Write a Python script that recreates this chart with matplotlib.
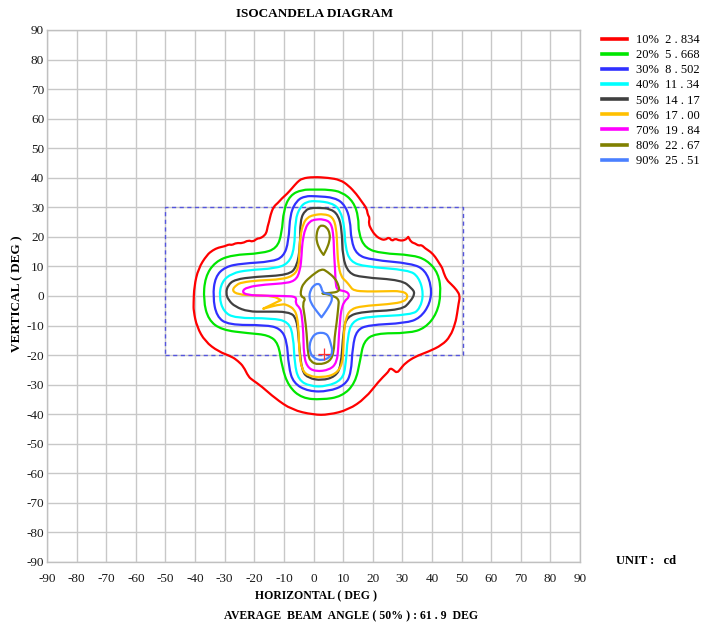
import matplotlib
matplotlib.use("Agg")
import matplotlib.pyplot as plt
import numpy as np
from matplotlib.lines import Line2D
from matplotlib.path import Path
from matplotlib.patches import PathPatch

# ---------------- data ----------------
ticks = list(range(-90, 91, 10))
levels_pct = ["10%", "20%", "30%", "40%", "50%", "60%", "70%", "80%", "90%"]
levels_cd = ["2 . 834", "5 . 668", "8 . 502", "11 . 34", "14 . 17", "17 . 00", "19 . 84", "22 . 67", "25 . 51"]
level_colors = ["#ff0000", "#00e600", "#3030ff", "#00ffff", "#404040", "#ffc000", "#ff00ff", "#808000", "#4a80ff"]

c10 = [(-3.9, 39.8), (0, 40.3), (5, 40.0), (9, 39.3), (11.8, 37.4), (14.5, 34.5), (16.3, 31.9), (18, 29.6),
       (18.3, 27.5), (19.0, 26.5), (18.6, 24.5), (19.5, 22.5), (20.8, 20.6), (22.5, 19.3), (24.2, 18.9),
       (25.5, 20), (26.5, 18.5), (27.6, 19.5), (29, 18.7), (31, 18.9), (32, 20), (33, 18.2), (34.3, 17.8),
       (35.5, 17), (36.5, 17.3), (37.7, 16.1), (39.5, 15), (41.1, 13.3), (42.5, 11), (43.5, 9.5), (43.9, 8),
       (45, 5.4), (46.5, 4), (48.4, 2), (49.5, 0), (49, -2.5), (48.5, -6), (47.9, -9.2), (46.2, -13.7),
       (43.4, -16.6), (38.9, -18.8), (34.3, -20.5), (31, -22.7), (29.5, -24.5), (28.2, -26.1), (27, -25),
       (25.9, -24.4), (25.3, -25.5), (24.8, -26.1), (22, -28.9), (17.5, -34.6), (11.8, -38.5), (5.1, -40.2),
       (0, -40.2), (-7.3, -38.5), (-13, -34.6), (-17.5, -30.6), (-20.5, -28.5), (-22, -27.3), (-23.6, -23.9),
       (-25.5, -22), (-27.6, -20.5), (-32.1, -18.8), (-36.6, -15.4), (-39.4, -10.4), (-40.5, -5),
       (-40.5, -2.5), (-40.3, 3.2), (-38.9, 9.3), (-36, 13.9), (-34, 15.5), (-32.1, 16.4), (-30, 16.8),
       (-28.5, 17.5), (-27.6, 17.2), (-26, 18), (-24, 17.8), (-22, 18.9), (-20.5, 18.3), (-19, 19.5),
       (-18, 19.5), (-16.5, 20.5), (-15.8, 21.7), (-15.5, 23.5), (-15, 25.1), (-14.5, 27.5), (-13.5, 30.2),
       (-12, 31.5), (-10.7, 33), (-9, 34.5), (-7.3, 36.4), (-5.5, 38.5), (-3.9, 39.8)]

c20 = [(0.6, 36), (5, 36.0), (9.6, 35.2), (13.5, 31.9), (15.2, 26.8), (15.2, 21.2), (17.5, 16.1), (23.1, 14.4),
       (33.2, 13.9), (38.3, 12.2), (42.2, 7.7), (43.1, 0.9), (41.7, -5.9), (37.7, -10.9), (32.1, -12.6),
       (20.8, -12.6), (16.9, -15.4), (15.8, -21.6), (14.1, -29.5), (9.6, -34), (2.8, -35.1), (-3.9, -34.6),
       (-8.4, -30.6), (-10.7, -23.9), (-11.8, -16), (-15.2, -13.2), (-22, -12.6), (-31, -11.5), (-35.5, -8.1),
       (-37.2, -1.4), (-36.6, 6.5), (-33.2, 11.6), (-27.6, 13.9), (-17.5, 14.4), (-12.4, 16.1), (-10.7, 21.2),
       (-10.1, 29.1), (-7.9, 34.1), (-3.9, 36), (0.6, 36)]

c30 = [(0.6, 33.8), (7.3, 33.3), (10.7, 30.7), (12.4, 25.7), (12.7, 18.9), (14.6, 13.9), (19.7, 12.2),
       (33.2, 11), (37.7, 8.8), (39.9, 3.2), (39.4, -2.5), (36, -7.5), (31, -9.2), (18.6, -9.8), (14.6, -11.5),
       (13.2, -17.1), (12.7, -26.1), (10.7, -30.1), (5.1, -32.3), (-1.7, -32.3), (-6.8, -29.5), (-8.4, -23.9),
       (-9, -14.9), (-11.3, -10.9), (-16.3, -9.8), (-28.7, -9.8), (-32.7, -7), (-34, -0.2), (-33.2, 6.5),
       (-29.8, 9.9), (-24.2, 11), (-14.1, 11.6), (-10.1, 13.3), (-8.4, 18.4), (-7.9, 27.9), (-5.6, 32.4),
       (-2.8, 33.8), (0.6, 33.8)]

c40 = [(0.6, 32.2), (6.2, 31.5), (9, 29.1), (10.5, 23.4), (10.7, 16.7), (12.4, 11.6), (17.5, 9.9), (32.1, 8.8),
       (35.5, 6.5), (37.2, 0.9), (36, -4.2), (33.2, -6.4), (17.5, -7), (13, -8.7), (11.5, -13.7), (10.9, -23.9),
       (9.6, -28.4), (4.5, -30.6), (-1.1, -30.6), (-5.1, -28.4), (-6.4, -22.7), (-6.8, -13.7), (-8.4, -8.7),
       (-14.1, -7.5), (-26.5, -7.5), (-30.4, -5.3), (-31.9, -0.2), (-31, 4.8), (-27.6, 7.7), (-22, 8.8),
       (-13, 9.3), (-8.4, 11), (-6.4, 16.1), (-6.2, 25.7), (-4.5, 30.2), (-2.3, 31.9), (0.6, 32.2)]

c50 = [(1.7, 29.8), (5.6, 29.6), (8.4, 27.4), (9.6, 22.3), (9.8, 13.3), (11.8, 7.7), (16.3, 6.3), (29.8, 5.4),
       (33.2, 2.6), (34.3, 0.9), (32.7, -1.9), (29.8, -4.7), (16.3, -5.3), (11.3, -7), (10.1, -11.5),
       (9.3, -23.9), (7.3, -27.3), (2.8, -28.6), (-1.7, -27.8), (-3.9, -25.5), (-4.8, -17.1), (-5.6, -7.5),
       (-8.4, -5.3), (-16.3, -5.3), (-22, -5.3), (-26.5, -3.6), (-28.7, -1.4), (-29.6, 0.9), (-28.9, 3.7),
       (-26.5, 5.6), (-19.7, 6.5), (-8.4, 7.1), (-5.6, 9.9), (-4.5, 16.7), (-4.5, 25.7), (-2.8, 29.1),
       (-0.6, 29.8), (1.7, 29.8)]

c60 = [(0, 27.4), (3.4, 27.8), (6.5, 26.8), (7.7, 23), (8.0, 17), (8.3, 11), (9.3, 6.5), (11.0, 5.0),
       (12.2, 3.5), (13.5, 1.8), (18, 1.5), (24, 1.6), (29.8, 1.7), (32.0, 0.4), (31.0, -1.9), (25.3, -2.8),
       (16.3, -3.4), (12.5, -4.5), (10.9, -7.5), (10.3, -12), (10.1, -17.1), (9.8, -23.0), (7.5, -26.5),
       (2.8, -27.6), (-1.7, -27.1), (-3.9, -25.0), (-4.8, -19.4), (-5.0, -12), (-5.5, -7), (-6.5, -4.5),
       (-8.5, -3.2), (-10.5, -2.6), (-17.0, -4.3), (-11.0, -1.4), (-13.5, 0.0), (-20, 0.2), (-25.5, 0.5),
       (-27.6, 1.9), (-26, 3.8), (-24.2, 4.6), (-18.6, 5.3), (-10.7, 5.6), (-6.5, 7.0), (-5.0, 10), (-4.8, 14),
       (-4.5, 20), (-3.5, 24.5), (-2, 26.6), (0, 27.4)]

c70 = [(0.5, 25.9), (3.4, 26.0), (6.0, 24.8), (6.8, 20), (6.9, 15), (7.3, 8.8), (7.5, 3.5), (8.2, 2.0),
       (11.5, 1.5), (12.2, -0.3), (10.3, -1.8), (9.3, -5), (9.0, -8.1), (8.6, -13), (8.4, -17.1), (7.9, -22.5),
       (5.5, -25.0), (0.6, -25.6), (-2.3, -23.9), (-3.3, -19.4), (-3.4, -12.6), (-4.0, -6), (-4.6, -4.0),
       (-6.2, -2.5), (-5.6, -0.2), (-10, 0.0), (-16, 0.1), (-22.5, 0.3), (-24.2, 1.5), (-22.5, 3.0),
       (-16.3, 3.9), (-10.7, 4.2), (-6.2, 5.0), (-4.5, 8.5), (-4.0, 14), (-3.8, 18), (-2.8, 23.0),
       (-1.2, 25.3), (0.5, 25.9)]

c80a = [(2.8, 24.0), (4.5, 23.3), (5.6, 21), (5.4, 18.5), (4.5, 16), (3.4, 13.9), (2.2, 15.5), (1.0, 18.5),
        (1.0, 21), (1.7, 23.3), (2.8, 24.0)]

c80b = [(2.8, 9.3), (4.7, 8.2), (7.3, 6.0), (8.5, 3.5), (8.8, 1.5), (5.5, 1.0), (3.0, 0.9), (6.0, 0.3),
        (8.6, -1.0), (8.4, -3.6), (7.8, -9.3), (7.1, -14), (6.9, -18.8), (5.6, -22.2), (1.7, -23.3),
        (-1.1, -22.2), (-1.9, -19.4), (-2.3, -12.6), (-3.0, -6.5), (-3.7, -2.5), (-2.6, -0.8), (-4.3, -0.2),
        (-4.3, 2.0), (-3.4, 4.3), (-0.5, 7), (2.8, 9.3)]

c90a = [(3.1, 0.9), (2.5, 3.5), (1.5, 4.3), (0.0, 3.5), (-1.0, 2), (-1.5, -0.2), (-0.8, -2.5), (0.8, -4.8),
        (2.7, -7.2), (4.3, -5), (5.8, -2.5), (6.3, -1), (6.0, 0.7), (3.1, 0.9)]

c90b = [(2.3, -12.4), (4.0, -12.6), (5.1, -13.7), (5.8, -16), (6.5, -18.8), (5.5, -20.8), (2.8, -21.9),
        (0.0, -21.0), (-1.2, -19.0), (-1.4, -16.5), (-0.5, -14), (0.8, -12.7), (2.3, -12.4)]

contours = [[c10], [c20], [c30], [c40], [c50], [c60], [c70], [c80a, c80b], [c90a, c90b]]

beam_box_x = [-50, 50.5]
beam_box_y = [-20, 30]
peak_point = (3.7, -19.5)


def smooth_closed_path(pts):
    """Closed path through the traced vertices, drawn with quadratic Bezier
    segments (vertices as control points); sharp turns are kept as corners."""
    P = np.asarray(pts, dtype=float)
    if np.allclose(P[0], P[-1]):
        P = P[:-1]
    n = len(P)
    mids = (P + np.roll(P, -1, axis=0)) / 2.0
    verts = [mids[-1]]
    codes = [Path.MOVETO]
    for i in range(n):
        a, p, b = P[i - 1], P[i], P[(i + 1) % n]
        u = p - a
        v = b - p
        nu, nv = np.hypot(*u), np.hypot(*v)
        sharp = nu > 0 and nv > 0 and np.dot(u, v) / (nu * nv) < -0.25
        verts += [p, mids[i]]
        if sharp:
            codes += [Path.LINETO, Path.LINETO]
        else:
            codes += [Path.CURVE3, Path.CURVE3]
    return Path(verts, codes)


# ---------------- figure ----------------
plt.rcParams['font.family'] = ['Liberation Serif', 'DejaVu Serif']
plt.rcParams['axes.unicode_minus'] = False
fig = plt.figure(figsize=(7.03, 6.23), dpi=100)
ax = fig.add_axes([47 / 703, 61 / 623, 533 / 703, 532 / 623])
ax.set_xlim(-90, 90)
ax.set_ylim(-90, 90)
ax.set_xticks(ticks)
ax.set_yticks(ticks)
ax.grid(True, color="#c8c8c8", lw=1.0)
ax.set_axisbelow(True)
for s in ax.spines.values():
    s.set_color("#c0c0c0")
    s.set_linewidth(1.0)
ax.tick_params(length=0, labelsize=9.5, colors="#1a1a1a")
ax.tick_params(axis="x", pad=8)
ax.tick_params(axis="y", pad=2)

# beam box
bx0, bx1 = beam_box_x
by0, by1 = beam_box_y
ax.plot([bx0, bx1, bx1, bx0, bx0], [by0, by0, by1, by1, by0], color="#5555dd", lw=1.0,
        dashes=(3, 2.5), zorder=2)

handles = []
for segs, col, p, cd in zip(contours, level_colors, levels_pct, levels_cd):
    for seg in segs:
        patch = PathPatch(smooth_closed_path(seg), facecolor="none", edgecolor=col, lw=1.6,
                          joinstyle="round", zorder=3)
        ax.add_patch(patch)
    handles.append(Line2D([], [], color=col, lw=2.6, label=f"{p}  {cd}"))

ax.plot([peak_point[0]], [peak_point[1]], marker="+", color="#ff3030", ms=8, mew=0.9, zorder=4)

fig.legend(handles=handles, loc="upper left", bbox_to_anchor=(597 / 703, 1 - 29 / 623), frameon=False,
           fontsize=9, handlelength=2.0, handletextpad=0.7, labelspacing=0.25, borderaxespad=0)

fig.text(315 / 703, 1 - 14 / 623, "ISOCANDELA DIAGRAM", ha="center", va="center", fontsize=9.5,
         fontweight="bold")
fig.text(316 / 703, 1 - 596 / 623, "HORIZONTAL ( DEG )", ha="center", va="center", fontsize=8.5,
         fontweight="bold")
fig.text(351 / 703, 1 - 616 / 623, "AVERAGE  BEAM  ANGLE ( 50% ) : 61 . 9  DEG", ha="center", va="center",
         fontsize=8.5, fontweight="bold")
fig.text(646 / 703, 1 - 561 / 623, "UNIT :   cd", ha="center", va="center", fontsize=9, fontweight="bold")
fig.text(17 / 703, 1 - 294 / 623, "VERTICAL ( DEG )", ha="center", va="center", rotation=90, fontsize=9.5,
         fontweight="bold")

fig.savefig("out.png", dpi=100)
